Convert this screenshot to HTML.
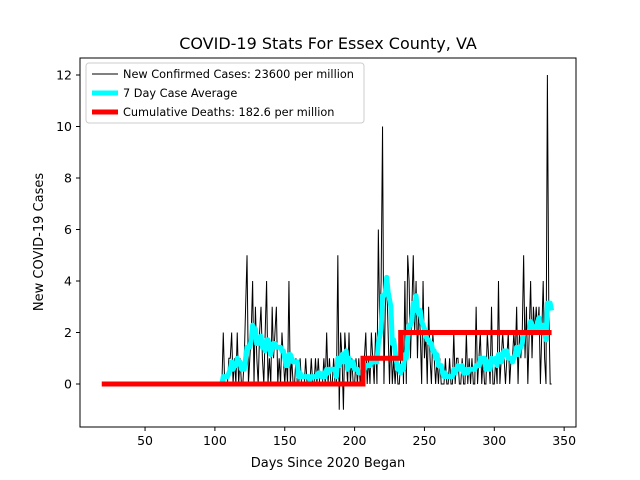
<!DOCTYPE html>
<html><head><meta charset="utf-8"><style>
body{margin:0;background:#fff;}
svg{display:block;font-family:"DejaVu Sans","Liberation Sans",sans-serif;}
</style></head><body>
<svg id="chart" width="640" height="480" viewBox="0 0 640 480">
<rect x="0" y="0" width="640" height="480" fill="#fff"/>
<text x="328" y="49" text-anchor="middle" font-size="16">COVID-19 Stats For Essex County, VA</text>
<g id="plot"></g>
<rect x="80" y="58" width="496" height="369" fill="none" stroke="#000" stroke-width="1"/>
<g id="xticks"></g><g id="yticks"></g>
<text x="328" y="467" text-anchor="middle" font-size="13">Days Since 2020 Began</text>
<text transform="translate(43,242) rotate(-90)" text-anchor="middle" font-size="13">New COVID-19 Cases</text>
<g>
<rect x="86" y="63" width="278" height="60" rx="3" fill="#fff" fill-opacity="0.8" stroke="#ccc"/>
<g><line x1="92" y1="74" x2="118" y2="74" stroke="#000" stroke-width="1"/><text x="123" y="78" font-size="11.3">New Confirmed Cases: 23600 per million</text></g>
<g><line x1="92" y1="93" x2="118" y2="93" stroke="#00ffff" stroke-width="5"/><text x="123" y="97" font-size="11.3">7 Day Case Average</text></g>
<g><line x1="92" y1="112" x2="118" y2="112" stroke="#ff0000" stroke-width="5"/><text x="123" y="116" font-size="11.3">Cumulative Deaths: 182.6 per million</text></g>
</g>
</svg>
<script>
const caseStartDay = 104;
const cases = [0,0,2,0,0,0,1,1,2,0,
1,0,2,0,1,0,0,1,3,5,
0,1,2,4,0,3,1,0,2,3,
1,0,2,4,0,1,0,3,1,2,
3,0,1,0,2,1,0,1,0,4,
0,1,0,0,1,0,0,1,0,0,
0,1,0,0,0,1,0,0,1,0,
1,0,0,0,1,0,2,0,1,0,
0,1,0,0,5,-1,2,1,-1,2,
1,0,2,0,1,0,0,1,0,1,
0,1,0,1,2,0,1,0,2,1,
0,2,0,6,2,4,10,0,3,4,
2,0,2,0,1,0,1,0,0,1,
2,0,4,0,5,4,1,3,5,2,
4,1,3,2,0,4,1,2,0,3,
1,0,2,1,0,1,0,1,0,0,
0,1,0,0,1,0,0,2,0,1,
1,0,0,1,0,0,2,0,1,0,
1,0,0,3,0,1,2,0,1,0,
0,2,1,0,3,0,0,1,0,4,
0,1,2,1,0,1,2,0,1,1,
2,1,3,0,2,1,2,5,1,3,
0,2,4,1,3,2,3,2,3,0,
2,4,1,0,12,3,0,0];
const deathDays = [19,206,233];
const deathValues = [0,1,2];
const deathEndDay = 341;
const xTicks = [50,100,150,200,250,300,350];
const yTicks = [0,2,4,6,8,10,12];

const NS = "http://www.w3.org/2000/svg";
const X = d => 75.2 + d * 1.397;
const Y = v => 384 - v * 25.75;
function mk(tag, attrs, parent){const e=document.createElementNS(NS,tag);for(const k in attrs)e.setAttribute(k,attrs[k]);parent.appendChild(e);return e;}
const plot = document.getElementById('plot');

let p = cases.map((v,i)=>(i?'L':'M')+X(caseStartDay+i).toFixed(2)+','+Y(v).toFixed(2)).join(' ');
const cl = mk('path',{d:p,fill:'none',stroke:'#000','stroke-width':1},plot);



const avg = cases.map((v,i)=>{let s=0;for(let j=Math.max(0,i-6);j<=i;j++)s+=cases[j];return s/7;});
p = avg.map((v,i)=>(i?'L':'M')+X(caseStartDay+i).toFixed(2)+','+Y(v).toFixed(2)).join(' ');
const al = mk('path',{d:p,fill:'none',stroke:'#00ffff','stroke-width':5,'stroke-linejoin':'round'},plot);



let dp = '';
deathDays.forEach((d,i)=>{
  dp += (i? 'L'+X(d)+','+Y(deathValues[i-1])+' L' : 'M') + X(d)+','+Y(deathValues[i])+' ';
});
dp += 'L'+X(deathEndDay)+','+Y(deathValues[deathValues.length-1]);
const dl = mk('path',{d:dp,fill:'none',stroke:'#ff0000','stroke-width':5},plot);



const xg = document.getElementById('xticks');
xTicks.forEach(t=>{
  const g = mk('g',{},xg);
  
  
  mk('line',{x1:X(t),x2:X(t),y1:427,y2:431,stroke:'#000'},g);
  const tx = mk('text',{x:X(t),y:445,'text-anchor':'middle','font-size':12.5},g);
  tx.textContent = t;
});
const yg = document.getElementById('yticks');
yTicks.forEach(t=>{
  const g = mk('g',{},yg);
  
  
  mk('line',{x1:76,x2:80,y1:Y(t),y2:Y(t),stroke:'#000'},g);
  const tx = mk('text',{x:72,y:Y(t)+4.5,'text-anchor':'end','font-size':12.5},g);
  tx.textContent = t;
});
</script>
</body></html>
